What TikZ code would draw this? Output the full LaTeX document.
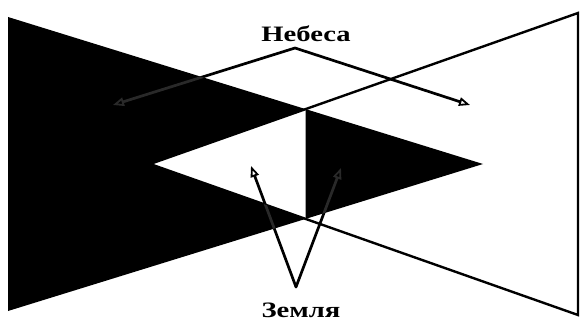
\documentclass[tikz,border=0pt]{standalone}
\usepackage{fontspec}
\setmainfont{Liberation Serif}
\usetikzlibrary{arrows.meta}
\begin{document}
\begin{tikzpicture}[x=1pt,y=-1pt,
  lbl/.style={font=\fontsize{22}{26}\selectfont\bfseries, inner sep=0pt},
  ptr/.style={line width=2.7pt, line cap=round, -{Triangle[open,length=11pt,width=8.5pt,line width=1.8pt]}},
  outline/.style={line width=2.4pt, line join=miter},
  faint/.style={draw=black!84}]
\useasboundingbox (0,0) rectangle (581,321);
\fill[white] (0,0) rectangle (581,321);
\coordinate (B1) at (8,17);
\coordinate (B2) at (8,311);
\coordinate (BA) at (483,164);
\coordinate (WA) at (150,164);
\coordinate (W1) at (578,13);
\coordinate (W2) at (578,315);
\coordinate (X1) at (305.6,109.1);
\coordinate (X2) at (305.6,218.9);
% black triangle pointing right
\fill (B1) -- (BA) -- (B2) -- cycle;
% white triangle pointing left
\filldraw[fill=white, outline] (WA) -- (W1) -- (W2) -- cycle;
% right part of the black triangle lies above
\fill (X1) -- (BA) -- (X2) -- cycle;
% labels
\node[lbl, anchor=base] (neb) at (306,42) {\scalebox{1.3}[1]{Небеса}};
\node[lbl, anchor=base] (zem) at (301,317) {\scalebox{1.3}[1]{Земля}};
\coordinate (nv) at (295,48);
\coordinate (n1) at (113,105);
\coordinate (n2) at (470,105);
\coordinate (zv) at (296,287);
\coordinate (z1) at (251,166);
\coordinate (z2) at (341,168);
\draw[ptr] (nv) -- (n1);
\draw[ptr] (nv) -- (n2);
\draw[ptr] (zv) -- (z1);
\draw[ptr] (zv) -- (z2);
% parts of the pointers over the black areas
\begin{scope}
  \clip (B1) -- (X1) -- (WA) -- (X2) -- (B2) -- cycle
        (X1) -- (BA) -- (X2) -- cycle;
  \draw[ptr, faint] (nv) -- (n1);
  \draw[ptr, faint] (zv) -- (z1);
  \draw[ptr, faint] (zv) -- (z2);
\end{scope}
\end{tikzpicture}
\end{document}
